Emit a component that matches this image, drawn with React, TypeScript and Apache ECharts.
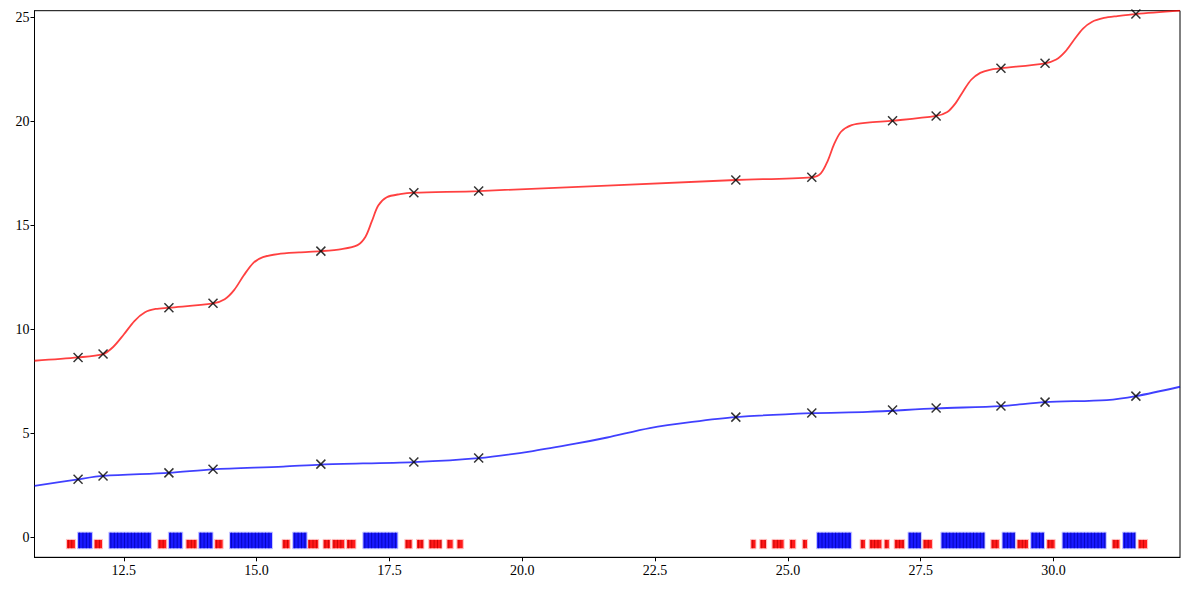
import React, { useEffect, useRef } from "react";
import * as echarts from "echarts";

// ---- data ----
const markerX = [11.64, 12.11, 13.35, 14.18, 16.21, 17.96, 19.18, 24.02, 25.45, 26.97, 27.79, 29.01, 29.84, 31.55];
const redMarkerY = [8.65, 8.81, 11.04, 11.25, 13.76, 16.57, 16.65, 17.18, 17.31, 20.03, 20.26, 22.55, 22.79, 25.16];
const blueMarkerY = [2.79, 2.95, 3.1, 3.27, 3.52, 3.62, 3.81, 5.78, 5.98, 6.12, 6.22, 6.31, 6.5, 6.79];

const redCurveX = [
  10.82, 11.64, 12.11, 12.3, 12.5, 12.7, 12.9, 13.1, 13.35, 14.18, 14.4, 14.58, 14.76, 14.94, 15.12, 15.4, 15.8,
  16.21, 16.6, 16.9, 17.05, 17.17, 17.29, 17.45, 17.7, 17.96, 19.18, 24.02, 25.45, 25.62, 25.75, 25.87, 26.0, 26.2,
  26.5, 26.97, 27.79, 28.0, 28.15, 28.3, 28.45, 28.62, 28.8, 29.01, 29.84, 30.05, 30.22, 30.38, 30.55, 30.72, 30.95,
  31.2, 31.55, 32.38,
];
const redCurveY = [
  8.49, 8.65, 8.81, 9.15, 9.75, 10.4, 10.82, 10.98, 11.04, 11.25, 11.45, 11.9, 12.6, 13.2, 13.47, 13.62, 13.7,
  13.76, 13.86, 14.05, 14.45, 15.2, 15.95, 16.35, 16.5, 16.57, 16.65, 17.18, 17.31, 17.5, 18.1, 18.9, 19.5, 19.82,
  19.94, 20.03, 20.26, 20.45, 20.85, 21.45, 22.0, 22.33, 22.48, 22.55, 22.79, 22.97, 23.35, 23.9, 24.45, 24.78, 24.97,
  25.06, 25.16, 25.32,
];

const blueCurveX = [10.82, 11.64, 12.12, 13.35, 14.18, 15.5, 16.21, 17.96, 19.18, 20.2, 21.0, 21.6, 22.4, 23.2, 24.02, 25.45, 26.5, 27.79, 29.01, 29.84, 31.0, 31.55, 32.38];
const blueCurveY = [2.47, 2.79, 2.95, 3.1, 3.27, 3.4, 3.5, 3.62, 3.81, 4.15, 4.5, 4.8, 5.25, 5.55, 5.78, 5.97, 6.03, 6.2, 6.31, 6.5, 6.6, 6.79, 7.24];

const redStart = [11.42, 11.94, 13.14, 13.67, 14.21, 15.48, 15.96, 16.25, 16.42, 16.69, 17.79, 18.01, 18.24, 18.58, 18.77, 24.3, 24.47, 24.7, 25.03, 25.27, 26.36, 26.53, 26.81, 27.0, 27.54, 28.82, 29.31, 29.87, 31.1, 31.59];
const redEnd = [11.59, 12.1, 13.31, 13.88, 14.37, 15.63, 16.17, 16.39, 16.66, 16.87, 17.93, 18.15, 18.49, 18.7, 18.89, 24.4, 24.6, 24.93, 25.15, 25.37, 26.46, 26.77, 26.91, 27.2, 27.72, 28.98, 29.53, 30.03, 31.25, 31.77];
const blueStart = [11.63, 12.22, 13.34, 13.91, 14.49, 15.68, 17.0, 25.54, 27.26, 27.88, 29.03, 29.57, 30.16, 31.3];
const blueEnd = [11.91, 13.02, 13.61, 14.18, 15.3, 15.95, 17.66, 26.2, 27.51, 28.71, 29.28, 29.83, 30.99, 31.55];

const RUG_BOTTOM = -0.55;
const RED_TOP = -0.1;
const BLUE_TOP = 0.25;

const xTicks = [12.5, 15, 17.5, 20, 22.5, 25, 27.5, 30];
const yTicks = [0, 5, 10, 15, 20, 25];

const X_MIN = 10.82;
const X_MAX = 32.38;
const Y_MIN = -0.96;
const Y_MAX = 25.32;

const FONT = "Liberation Serif, DejaVu Serif, serif";

function rugRender(fill: string, stripe: string, halo: string) {
  return (params: any, api: any) => {
    const a = api.coord([api.value(0), api.value(3)]);
    const b = api.coord([api.value(1), api.value(2)]);
    const w = b[0] - a[0];
    const h = b[1] - a[1];
    const children: any[] = [
      {
        type: "rect",
        shape: { x: a[0], y: a[1], width: w, height: h },
        style: { fill, stroke: halo, lineWidth: 1 },
      },
    ];
    for (let x = a[0] + 2; x < b[0] - 1; x += 3.4) {
      children.push({
        type: "line",
        shape: { x1: x, y1: a[1] + 0.5, x2: x, y2: b[1] - 0.5 },
        style: { stroke: stripe, lineWidth: 0.8 },
      });
    }
    return { type: "group", children };
  };
}

export default function App() {
  const ref = useRef<HTMLDivElement>(null);
  useEffect(() => {
    if (!ref.current) return;
    const chart = echarts.init(ref.current, null, { renderer: "svg" });
    const redLine = redCurveX.map((x, i) => [x, redCurveY[i]]);
    const blueLine = blueCurveX.map((x, i) => [x, blueCurveY[i]]);
    const redPts = markerX.map((x, i) => [x, redMarkerY[i]]);
    const bluePts = markerX.map((x, i) => [x, blueMarkerY[i]]);
    const redRug = redStart.map((s, i) => [s, redEnd[i], RUG_BOTTOM, RED_TOP]);
    const blueRug = blueStart.map((s, i) => [s, blueEnd[i], RUG_BOTTOM, BLUE_TOP]);
    const xSymbol = "path://M0,0L10,10M10,0L0,10";
    chart.setOption({
      animation: false,
      backgroundColor: "#fff",
      grid: {
        left: 34.5,
        right: 9,
        top: 10.7,
        bottom: 32.7,
        show: true,
        borderColor: "#000",
        borderWidth: 1,
        backgroundColor: "transparent",
      },
      xAxis: {
        type: "value",
        min: X_MIN,
        max: X_MAX,
        axisLine: { show: true, onZero: false, lineStyle: { color: "#000", width: 1 } },
        axisTick: {
          show: true,
          customValues: xTicks,
          length: 4,
          lineStyle: { color: "#000", width: 1 },
        },
        axisLabel: {
          customValues: xTicks,
          formatter: (v: number) => v.toFixed(1),
          color: "#000",
          fontFamily: FONT,
          fontSize: 14,
          margin: 6,
        },
        splitLine: { show: false },
      },
      yAxis: {
        type: "value",
        min: Y_MIN,
        max: Y_MAX,
        axisLine: { show: true, onZero: false, lineStyle: { color: "#000", width: 1 } },
        axisTick: {
          show: true,
          customValues: yTicks,
          length: 4,
          lineStyle: { color: "#000", width: 1 },
        },
        axisLabel: {
          customValues: yTicks,
          formatter: (v: number) => String(v),
          color: "#000",
          fontFamily: FONT,
          fontSize: 14,
          margin: 5,
        },
        splitLine: { show: false },
      },
      series: [
        {
          type: "custom",
          renderItem: rugRender("#ff1a1a", "#c00000", "#ffc8c8"),
          data: redRug,
          encode: { x: [0, 1], y: [2, 3] },
          z: 2,
        },
        {
          type: "custom",
          renderItem: rugRender("#1a1aff", "#0000b0", "#c8c8ff"),
          data: blueRug,
          encode: { x: [0, 1], y: [2, 3] },
          z: 2,
        },
        {
          type: "line",
          data: redLine,
          showSymbol: false,
          smooth: 0.3,
          lineStyle: { color: "rgba(255,0,0,0.75)", width: 1.8 },
          z: 3,
        },
        {
          type: "line",
          data: blueLine,
          showSymbol: false,
          smooth: 0.3,
          lineStyle: { color: "rgba(0,0,255,0.75)", width: 1.8 },
          z: 3,
        },
        {
          type: "scatter",
          data: redPts,
          symbol: xSymbol,
          symbolSize: 9,
          itemStyle: { color: "rgba(0,0,0,0)", borderColor: "#000", borderWidth: 1.5 },
          z: 5,
        },
        {
          type: "scatter",
          data: bluePts,
          symbol: xSymbol,
          symbolSize: 9,
          itemStyle: { color: "rgba(0,0,0,0)", borderColor: "#000", borderWidth: 1.5 },
          z: 5,
        },
      ],
    });
    return () => chart.dispose();
  }, []);
  return (
    <div
      ref={ref}
      style={{ position: "fixed", left: 0, top: 0, width: "1189px", height: "590px" }}
    />
  );
}
